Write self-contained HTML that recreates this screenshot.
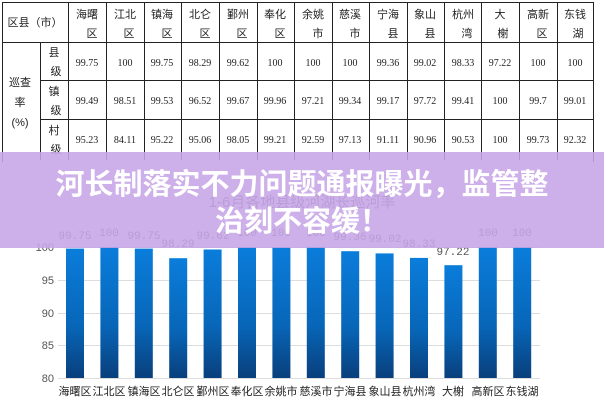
<!DOCTYPE html>
<html><head><meta charset="utf-8"><style>
body{margin:0;background:#fff;width:604px;height:400px;overflow:hidden;font-family:"Liberation Serif","Noto Serif CJK SC",serif;}
</style></head><body>
<svg width="604" height="400" xmlns="http://www.w3.org/2000/svg" style="position:absolute;left:0;top:0">
<defs><linearGradient id="g" x1="0" y1="0" x2="0" y2="1"><stop offset="0" stop-color="#0a7ddb"/><stop offset="0.6" stop-color="#0866b8"/><stop offset="1" stop-color="#093f7c"/></linearGradient></defs>
<g stroke="#222" stroke-width="1" fill="none">
<rect x="2.5" y="2.5" width="591" height="160"/>
<line x1="2" y1="42.5" x2="594" y2="42.5"/>
<line x1="40" y1="80.5" x2="594" y2="80.5"/>
<line x1="40" y1="119.5" x2="594" y2="119.5"/>
<line x1="40.5" y1="42" x2="40.5" y2="160"/>
<line x1="68.5" y1="2" x2="68.5" y2="160"/>
<line x1="106.5" y1="2" x2="106.5" y2="160"/><line x1="144.5" y1="2" x2="144.5" y2="160"/><line x1="181.5" y1="2" x2="181.5" y2="160"/><line x1="219.5" y1="2" x2="219.5" y2="160"/><line x1="257.5" y1="2" x2="257.5" y2="160"/><line x1="294.5" y1="2" x2="294.5" y2="160"/><line x1="332.5" y1="2" x2="332.5" y2="160"/><line x1="369.5" y1="2" x2="369.5" y2="160"/><line x1="407.5" y1="2" x2="407.5" y2="160"/><line x1="444.5" y1="2" x2="444.5" y2="160"/><line x1="481.5" y1="2" x2="481.5" y2="160"/><line x1="519.5" y1="2" x2="519.5" y2="160"/><line x1="557.5" y1="2" x2="557.5" y2="160"/>
</g>
<g font-size="11" fill="#222" font-family="Liberation Sans,Noto Sans CJK SC,sans-serif" text-anchor="middle">
<text x="35" y="26">区县（市）</text>
<text x="87" y="18">海曙</text><text x="92" y="37">区</text>
<text x="125" y="18">江北</text><text x="129" y="37">区</text>
<text x="162" y="18">镇海</text><text x="167" y="37">区</text>
<text x="200" y="18">北仑</text><text x="205" y="37">区</text>
<text x="238" y="18">鄞州</text><text x="242" y="37">区</text>
<text x="275" y="18">奉化</text><text x="280" y="37">区</text>
<text x="313" y="18">余姚</text><text x="318" y="37">市</text>
<text x="350" y="18">慈溪</text><text x="355" y="37">市</text>
<text x="388" y="18">宁海</text><text x="393" y="37">县</text>
<text x="425" y="18">象山</text><text x="430" y="37">县</text>
<text x="463" y="18">杭州</text><text x="467" y="37">湾</text>
<text x="500" y="18">大</text><text x="503" y="37">榭</text>
<text x="538" y="18">高新</text><text x="542" y="37">区</text>
<text x="575" y="18">东钱</text><text x="578" y="37">湖</text>
<text x="54" y="56">县</text><text x="56" y="75">级</text>
<text x="54" y="95">镇</text><text x="56" y="114">级</text>
<text x="54" y="134">村</text><text x="56" y="153">级</text>
<text x="20" y="86">巡查</text><text x="20" y="106">率</text><text x="20" y="126">(%)</text>
</g>
<g font-size="10" fill="#222" text-anchor="middle">
<text x="87" y="66">99.75</text><text x="125" y="66">100</text><text x="162" y="66">99.75</text><text x="200" y="66">98.29</text><text x="238" y="66">99.62</text><text x="275" y="66">100</text><text x="313" y="66">100</text><text x="350" y="66">100</text><text x="388" y="66">99.36</text><text x="425" y="66">99.02</text><text x="463" y="66">98.33</text><text x="500" y="66">97.22</text><text x="538" y="66">100</text><text x="575" y="66">100</text>
<text x="87" y="104">99.49</text><text x="125" y="104">98.51</text><text x="162" y="104">99.53</text><text x="200" y="104">96.52</text><text x="238" y="104">99.67</text><text x="275" y="104">99.96</text><text x="313" y="104">97.21</text><text x="350" y="104">99.34</text><text x="388" y="104">99.17</text><text x="425" y="104">97.72</text><text x="463" y="104">99.41</text><text x="500" y="104">100</text><text x="538" y="104">99.7</text><text x="575" y="104">99.01</text>
<text x="87" y="143">95.23</text><text x="125" y="143">84.11</text><text x="162" y="143">95.22</text><text x="200" y="143">95.06</text><text x="238" y="143">98.05</text><text x="275" y="143">99.21</text><text x="313" y="143">92.59</text><text x="350" y="143">97.13</text><text x="388" y="143">91.11</text><text x="425" y="143">90.96</text><text x="463" y="143">90.53</text><text x="500" y="143">100</text><text x="538" y="143">99.73</text><text x="575" y="143">92.32</text>
</g>
<rect x="0" y="162" width="604" height="238" fill="#fff"/>
<g stroke="#ddd" stroke-width="1">
<line x1="58" y1="247.5" x2="540" y2="247.5"/><line x1="58" y1="280.5" x2="540" y2="280.5"/><line x1="58" y1="313.5" x2="540" y2="313.5"/><line x1="58" y1="345.5" x2="540" y2="345.5"/><line x1="58" y1="378.5" x2="540" y2="378.5"/>
</g>
<g font-size="11" fill="#555" font-family="Liberation Sans,sans-serif" text-anchor="end">
<text x="54" y="251">100</text><text x="54" y="284">95</text><text x="54" y="317">90</text><text x="54" y="349">85</text><text x="54" y="382">80</text>
</g>
<text x="302" y="207" font-size="15" fill="#666" text-anchor="middle" font-family="Liberation Sans,Noto Sans CJK SC,sans-serif">1-6月各地县级河湖长巡河率</text>
<g fill="url(#g)">
<rect x="66" y="248.6" width="18" height="129.4"/>
<rect x="100.4" y="247" width="18" height="131"/>
<rect x="134.8" y="248.6" width="18" height="129.4"/>
<rect x="169.2" y="258.2" width="18" height="119.8"/>
<rect x="203.6" y="249.5" width="18" height="128.5"/>
<rect x="238" y="247" width="18" height="131"/>
<rect x="272.4" y="247" width="18" height="131"/>
<rect x="306.8" y="247" width="18" height="131"/>
<rect x="341.2" y="251.2" width="18" height="126.8"/>
<rect x="375.6" y="253.4" width="18" height="124.6"/>
<rect x="410" y="257.9" width="18" height="120.1"/>
<rect x="444.4" y="265.2" width="18" height="112.8"/>
<rect x="478.8" y="247" width="18" height="131"/>
<rect x="513.2" y="247" width="18" height="131"/>
</g>
<g font-size="11" fill="#555" font-family="Liberation Mono,monospace" text-anchor="middle">
<text x="75" y="239">99.75</text><text x="109" y="236">100</text><text x="144" y="239">99.75</text><text x="178" y="247">98.29</text><text x="213" y="239">99.62</text><text x="247" y="236">100</text><text x="281" y="236">100</text><text x="316" y="236">100</text><text x="350" y="240">99.36</text><text x="385" y="242">99.02</text><text x="419" y="247">98.33</text><text x="453" y="255">97.22</text><text x="488" y="236">100</text><text x="522" y="236">100</text>
</g>
<g font-size="11" fill="#222" font-family="Liberation Sans,Noto Sans CJK SC,sans-serif" text-anchor="middle">
<text x="75" y="395">海曙区</text><text x="109" y="395">江北区</text><text x="144" y="395">镇海区</text><text x="178" y="395">北仑区</text><text x="213" y="395">鄞州区</text><text x="247" y="395">奉化区</text><text x="281" y="395">余姚市</text><text x="316" y="395">慈溪市</text><text x="350" y="395">宁海县</text><text x="385" y="395">象山县</text><text x="419" y="395">杭州湾</text><text x="453" y="395">大榭</text><text x="488" y="395">高新区</text><text x="522" y="395">东钱湖</text>
</g>
<rect x="0" y="152" width="604" height="96" fill="#c6a4e6" fill-opacity="0.88"/>
<g font-size="29" font-weight="bold" fill="#fff" text-anchor="middle" font-family="Noto Sans CJK SC,sans-serif">
<text x="302" y="194">河长制落实不力问题通报曝光，监管整</text>
<text x="302" y="231">治刻不容缓！</text>
</g>
</svg>
</body></html>
